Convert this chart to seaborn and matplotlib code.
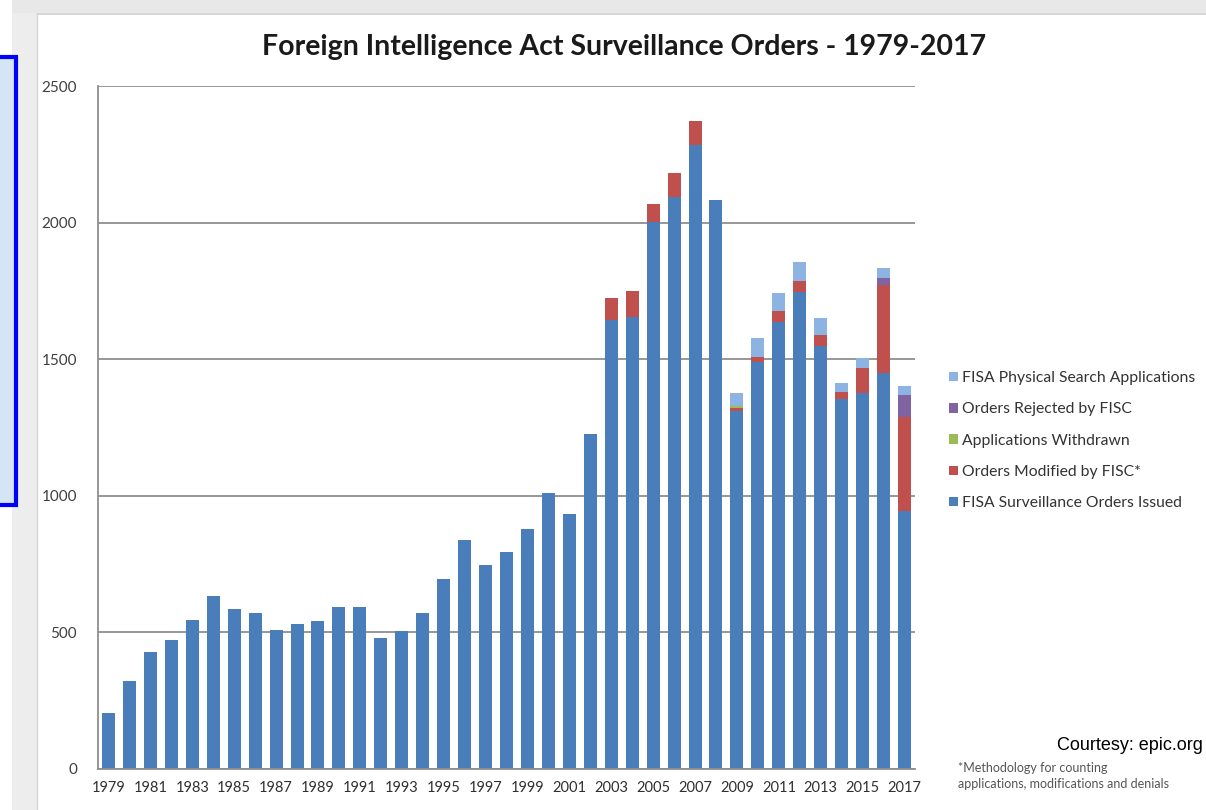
import numpy as np
import pandas as pd
import matplotlib
matplotlib.use("Agg")
import matplotlib.pyplot as plt
from matplotlib.patches import Rectangle, Patch
import seaborn as sns

# dados
anos = [str(a) for a in range(1979, 2018)]
emitidas = [205, 322, 429, 472, 545, 633, 584, 570, 509, 531,
            542, 592, 592, 481, 506, 572, 695, 837, 745, 794,
            877, 1010, 932, 1226, 1643, 1656, 2003, 2095, 2284, 2083,
            1310, 1488, 1637, 1745, 1548, 1356, 1375, 1448, 946]
modificadas = [0] * 24 + [82, 95, 66, 88, 88, 0, 12, 20, 39, 40, 42, 24, 91, 323, 344]
retiradas = [0] * 30 + [8, 0, 0, 0, 0, 0, 0, 0, 0]
rejeitadas = [0] * 37 + [25, 79]
busca_fisica = [0] * 30 + [46, 68, 67, 70, 62, 34, 37, 37, 33]

camadas = ["FISA Surveillance Orders Issued", "Orders Modified by FISC*",
           "Applications Withdrawn", "Orders Rejected by FISC",
           "FISA Physical Search Applications"]
cores = ["#4A7EBB", "#C0504D", "#9BBB59", "#8064A2", "#8DB3E2"]

df = pd.DataFrame({"ano": anos, camadas[0]: emitidas, camadas[1]: modificadas,
                   camadas[2]: retiradas, camadas[3]: rejeitadas,
                   camadas[4]: busca_fisica})
acumulado = df[camadas].cumsum(axis=1)

sns.set_style("white")
plt.rcParams["font.family"] = ["Lato", "DejaVu Sans"]

fig = plt.figure(figsize=(12.06, 8.10), dpi=100)
fig.patch.set_facecolor("white")

# moldura da captura de tela
fig.patches.append(Rectangle((12 / 1206, 0), 25 / 1206, 1, transform=fig.transFigure,
                             facecolor="#EDEDED", edgecolor="none", zorder=0))
fig.patches.append(Rectangle((12 / 1206, 1 - 13 / 810), 1, 13 / 810, transform=fig.transFigure,
                             facecolor="#E8E8E8", edgecolor="none", zorder=0))
fig.add_artist(plt.Line2D([37 / 1206, 1], [1 - 14 / 810] * 2, transform=fig.transFigure,
                          color="#CFCFCF", lw=1.2))
fig.add_artist(plt.Line2D([37 / 1206] * 2, [0, 1 - 14 / 810], transform=fig.transFigure,
                          color="#D6D6D6", lw=1.0))
fig.patches.append(Rectangle((-6 / 1206, 1 - 505 / 810), 22 / 1206, 448 / 810,
                             transform=fig.transFigure, facecolor="#D4E5F5",
                             edgecolor="#0000FF", lw=3, zorder=3))

ax = fig.add_axes([98 / 1206, 1 - 769 / 810, 817 / 1206, 683 / 810])
ax.set_facecolor("none")

# barras empilhadas: desenha do total para baixo
for i in range(len(camadas) - 1, -1, -1):
    sns.barplot(x=df["ano"], y=acumulado[camadas[i]], color=cores[i], saturation=1,
                width=0.62, linewidth=0, edgecolor="none", ax=ax, zorder=2)

ax.set_xlim(-0.5, len(anos) - 0.5)
ax.set_ylim(0, 2500)
ax.set_yticks(range(0, 2501, 500))
ax.set_yticklabels([str(v) for v in range(0, 2501, 500)], fontsize=11, color="#404040")
ax.set_xticks(range(0, len(anos), 2))
ax.set_xticklabels(anos[::2], fontsize=10.5, color="#303030")
ax.tick_params(axis="both", length=0)
ax.tick_params(axis="y", pad=15)
ax.tick_params(axis="x", pad=9)
ax.set_xlabel("")
ax.set_ylabel("")

ax.yaxis.grid(True, color="#8F8F8F", lw=1.3)
ax.set_axisbelow(True)
for lado in ["top", "right"]:
    ax.spines[lado].set_visible(False)
ax.spines["left"].set_color("#8F8F8F")
ax.spines["bottom"].set_color("#8F8F8F")
ax.spines["left"].set_linewidth(1.3)
ax.spines["bottom"].set_linewidth(1.3)

fig.text(624 / 1206, 1 - 47 / 810, "Foreign Intelligence Act Surveillance Orders - 1979-2017",
         ha="center", va="center", fontsize=20.5, fontweight="bold", color="#1A1A1A")

# legenda
alcas = [Patch(facecolor=cores[i], edgecolor="none", label=camadas[i])
         for i in range(len(camadas) - 1, -1, -1)]
fig.legend(handles=alcas, loc="upper left", bbox_to_anchor=(935 / 1206, 1 - 357 / 810),
           frameon=False, fontsize=11.3, handlelength=0.55, handleheight=0.55,
           handletextpad=0.3, labelspacing=1.1, labelcolor="#333333")

fig.text(1203 / 1206, 1 - 745 / 810, "Courtesy: epic.org", ha="right", va="center",
         fontsize=13, family="Liberation Sans", color="black")
fig.text(958 / 1206, 1 - 776 / 810,
         "*Methodology for counting\napplications, modifications and denials",
         ha="left", va="center", fontsize=9, color="#555555", linespacing=1.35)

fig.savefig("out.png", dpi=100)
